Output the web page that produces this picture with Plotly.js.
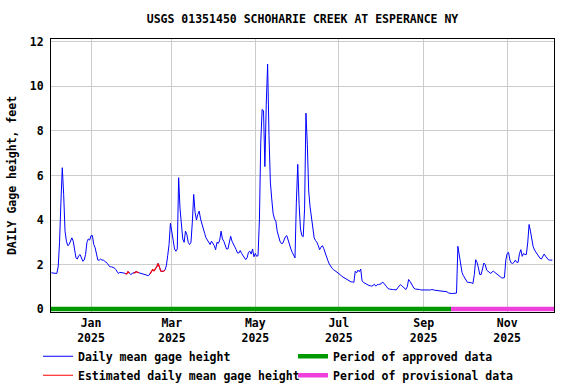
<!DOCTYPE html>
<html><head><meta charset="utf-8">
<script src="https://cdn.plot.ly/plotly-3.0.1.min.js"></script>
<style>html,body{margin:0;padding:0;background:#fff}#chart{width:576px;height:384px}</style>
</head><body><div id="chart"></div>
<script>
// Daily mean gage height (feet), one value per day starting at startDate
const startDate = '2024-12-03';
const dec2024 = [1.63,1.63,1.62,1.6,1.6,1.9,3.0,4.8,6.35,5.15,3.5,3.05,2.85,2.9,3.05,3.2,3.05,2.6,2.3,2.25,2.4,2.45,2.3,2.15,2.2,2.45,3.0,3.15,3.1];
const jan2025 = [3.3,3.3,2.9,2.75,2.5,2.2,2.2,2.25,2.2,2.2,2.15,2.1,2.05,1.95,1.9,1.9,1.88,1.85,1.78,1.7,1.6,1.65,1.65,1.63,1.62,1.6,1.58,1.68,1.62,1.55,1.6];
const feb2025 = [1.62,1.63,1.68,1.65,1.63,1.6,1.58,1.57,1.55,1.55,1.52,1.5,1.58,1.68,1.77,1.72,1.8,1.9,2.05,1.85,1.7,1.7,1.7,1.75,1.95,2.4,2.9,3.85];
const mar2025 = [3.55,3.1,2.7,2.6,2.7,5.9,4.5,3.6,3.15,3.0,3.5,3.35,3.0,2.9,3.0,3.9,5.15,4.35,4.0,4.25,4.4,4.05,3.8,3.55,3.4,3.2,3.1,3.0,2.9,3.05,2.95];
const apr2025 = [2.85,2.67,3.0,2.95,3.1,3.5,3.15,3.05,2.82,2.7,2.7,3.0,3.27,3.05,2.95,2.8,2.67,2.52,2.52,2.63,2.5,2.4,2.33,2.22,2.3,2.55,2.6,2.47,2.7,2.35];
const may2025 = [2.5,2.37,2.4,4.0,7.5,8.97,8.9,6.4,9.2,11.0,7.8,5.7,4.95,4.3,4.05,3.95,3.5,3.27,3.05,2.95,2.95,3.1,3.25,3.3,3.1,2.82,2.7,2.55,2.4,2.3,4.8];
const jun2025 = [6.5,4.7,3.6,3.3,3.25,4.5,8.8,7.4,5.3,4.6,4.2,3.75,3.2,3.08,3.0,2.85,2.67,2.78,2.85,2.72,2.5,2.33,2.18,2.03,1.9,1.84,1.78,1.74,1.7,1.65];
const jul2025 = [1.6,1.55,1.48,1.44,1.4,1.35,1.31,1.28,1.25,1.22,1.22,1.2,1.7,1.63,1.75,1.68,1.8,1.27,1.2,1.16,1.13,1.08,1.06,1.05,1.03,1.06,1.12,1.03,1.1,1.1,1.12];
const aug2025 = [1.14,1.22,1.12,1.08,1.0,0.92,0.9,0.88,0.88,0.88,0.88,0.86,0.95,1.02,1.1,1.05,0.98,0.9,0.88,1.0,1.33,1.25,1.12,1.0,0.93,0.9,0.9,0.88,0.88,0.86,0.86];
const sep2025 = [0.86,0.85,0.84,0.84,0.84,0.86,0.88,0.85,0.85,0.84,0.83,0.82,0.82,0.81,0.8,0.8,0.79,0.78,0.73,0.7,0.7,0.7,0.7,0.7,0.72,2.82,2.4,1.85,1.65,1.5];
const oct2025 = [1.38,1.25,1.2,1.2,1.2,1.18,1.15,1.55,2.22,2.1,1.85,1.55,1.55,1.8,2.07,2.0,1.75,1.7,1.65,1.6,1.67,1.7,1.65,1.6,1.53,1.48,1.42,1.4,1.4,1.42,2.2];
const nov2025 = [2.5,2.55,2.2,2.07,2.05,2.1,2.2,2.1,2.1,2.5,2.67,2.37,2.5,2.45,2.45,2.97,3.8,3.5,3.05,2.8,2.65,2.55,2.45,2.35,2.28,2.25,2.35,2.47,2.38,2.3];
const dec2025 = [2.22,2.2,2.2,2.2];

// Estimated-value periods
const estimatedRanges = [['2025-01-27','2025-01-29'],['2025-02-02','2025-02-05'],['2025-02-14','2025-02-24']];
// Approval status periods
const approvedPeriod = ['2024-12-02T18:00','2025-09-21'];
const provisionalPeriod = ['2025-09-21','2025-12-05T05:00'];
const xRange = ['2024-12-02T18:00','2025-12-05T05:00'];
const tickDates = ['2025-01-01','2025-03-01','2025-05-01','2025-07-01','2025-09-01','2025-11-01'];
const tickLabels = ['Jan<br>2025','Mar<br>2025','May<br>2025','Jul<br>2025','Sep<br>2025','Nov<br>2025'];
const yTicks = [0,2,4,6,8,10,12];
const yTickLabels = ['0','2','4','6','8','10','12'];

const values = [].concat(dec2024,jan2025,feb2025,mar2025,apr2025,may2025,jun2025,jul2025,aug2025,sep2025,oct2025,nov2025,dec2025);
const t0 = Date.parse(startDate + 'T00:00:00Z');
const dates = values.map((v,i) => new Date(t0 + i*86400000).toISOString().slice(0,10));
const isEst = d => estimatedRanges.some(r => d >= r[0] && d <= r[1]);
const estVals = values.map((v,i) => {
  if (isEst(dates[i])) return v;
  if (i+1 < dates.length && isEst(dates[i+1])) return v;
  return null;
});

const F = {family:'DejaVu Sans Mono', size:11.5, color:'#000', weight:'bold'};

const traces = [
  {x:dates, y:values, type:'scatter', mode:'lines', name:'Daily mean gage height', line:{color:'#0000ff', width:1}},
  {x:approvedPeriod, y:[0,0], type:'scatter', mode:'lines', name:'Period of approved data', line:{color:'#009900', width:4.5}},
  {x:dates, y:estVals, type:'scatter', mode:'lines', name:'Estimated daily mean gage height', line:{color:'#ff0000', width:1.2}, connectgaps:false},
  {x:provisionalPeriod, y:[0,0], type:'scatter', mode:'lines', name:'Period of provisional data', line:{color:'#f040dc', width:4.5}}
];

const layout = {
  width:576, height:384,
  margin:{l:51, r:22, t:39, b:72, pad:0, autoexpand:false},
  paper_bgcolor:'#fff', plot_bgcolor:'#fff',
  font:F,
  title:{text:'USGS 01351450 SCHOHARIE CREEK AT ESPERANCE NY', x:0.5, xref:'paper', xanchor:'center', y:1-19/384, yref:'container', yanchor:'middle', font:F},
  xaxis:{type:'date', range:xRange, tickmode:'array', tickvals:tickDates, ticktext:tickLabels, tickangle:0,
    showgrid:true, gridcolor:'#cccccc', gridwidth:1, showline:true, linecolor:'#000', linewidth:1, mirror:true,
    ticks:'', zeroline:false, tickfont:F, automargin:false},
  yaxis:{range:[-0.13,12.13], tickmode:'array', tickvals:yTicks, ticktext:yTickLabels,
    showgrid:true, gridcolor:'#cccccc', gridwidth:1, showline:true, linecolor:'#000', linewidth:1, mirror:true,
    ticks:'', zeroline:false, tickfont:F, ticklabelstandoff:4, automargin:false,
    title:{text:'DAILY Gage height, feet', font:F, standoff:10}},
  legend:{orientation:'h', x:-0.0258, xanchor:'left', y:-0.109, yanchor:'top', entrywidth:210, entrywidthmode:'pixels',
    font:F, itemwidth:30, tracegroupgap:0, bgcolor:'rgba(0,0,0,0)', traceorder:'normal'},
  showlegend:true
};

Plotly.newPlot('chart', traces, layout, {staticPlot:true, displayModeBar:false});
</script>
</body></html>
